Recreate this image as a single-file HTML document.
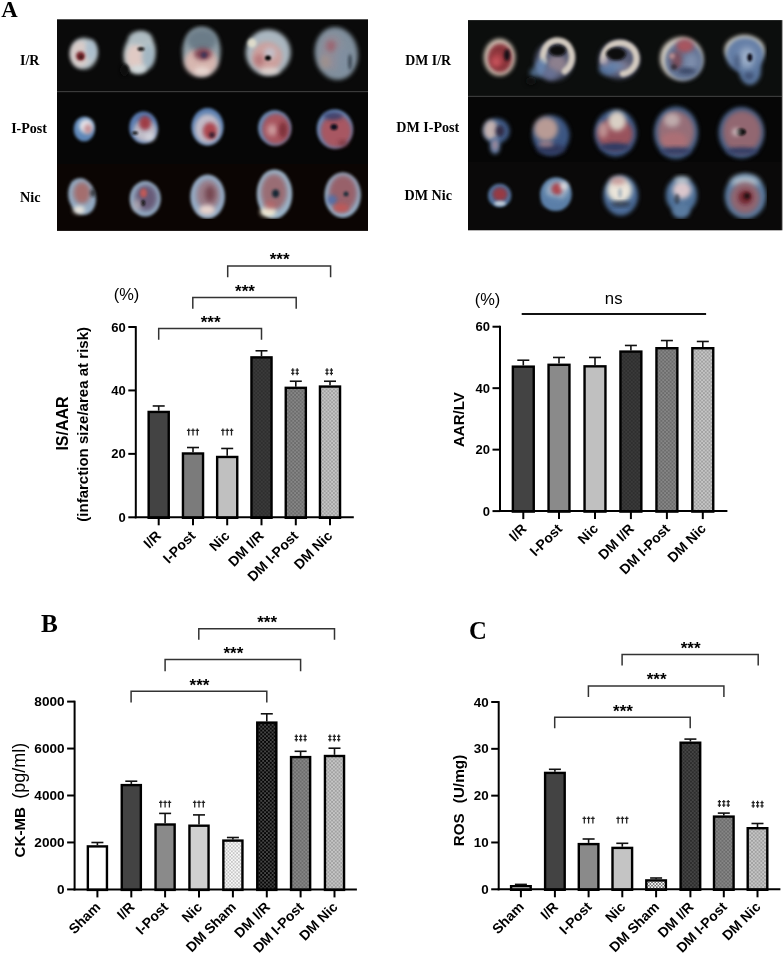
<!DOCTYPE html><html><head><meta charset="utf-8"><style>html,body{margin:0;padding:0;background:#fff;width:783px;height:955px;overflow:hidden;position:relative}</style></head><body><svg width="783" height="955" viewBox="0 0 783 955" style="position:absolute;left:0;top:0;will-change:transform">
<defs>
<filter id="b10" x="-50%" y="-50%" width="200%" height="200%"><feGaussianBlur stdDeviation="1.0"/></filter>
<filter id="b12" x="-50%" y="-50%" width="200%" height="200%"><feGaussianBlur stdDeviation="1.2"/></filter>
<filter id="b13" x="-50%" y="-50%" width="200%" height="200%"><feGaussianBlur stdDeviation="1.3"/></filter>
<filter id="b15" x="-50%" y="-50%" width="200%" height="200%"><feGaussianBlur stdDeviation="1.5"/></filter>
<filter id="b16" x="-50%" y="-50%" width="200%" height="200%"><feGaussianBlur stdDeviation="1.6"/></filter>
<filter id="b18" x="-50%" y="-50%" width="200%" height="200%"><feGaussianBlur stdDeviation="1.8"/></filter>
<filter id="b20" x="-50%" y="-50%" width="200%" height="200%"><feGaussianBlur stdDeviation="2.0"/></filter>
<filter id="b22" x="-50%" y="-50%" width="200%" height="200%"><feGaussianBlur stdDeviation="2.2"/></filter>
<filter id="b25" x="-50%" y="-50%" width="200%" height="200%"><feGaussianBlur stdDeviation="2.5"/></filter>
<filter id="b30" x="-50%" y="-50%" width="200%" height="200%"><feGaussianBlur stdDeviation="3.0"/></filter>
<filter id="desat" x="0" y="0" width="100%" height="100%"><feColorMatrix type="saturate" values="0.72"/></filter>
<pattern id="pDark" width="3.7" height="3.7" patternUnits="userSpaceOnUse"><rect width="3.7" height="3.7" fill="#3a3a3a"/><circle cx="0.925" cy="0.925" r="0.65" fill="#181818"/><circle cx="2.7750000000000004" cy="2.7750000000000004" r="0.65" fill="#181818"/></pattern>
<pattern id="pMid" width="3.7" height="3.7" patternUnits="userSpaceOnUse"><rect width="3.7" height="3.7" fill="#868686"/><circle cx="0.925" cy="0.925" r="0.6" fill="#3a3a3a"/><circle cx="2.7750000000000004" cy="2.7750000000000004" r="0.6" fill="#3a3a3a"/></pattern>
<pattern id="pLight" width="3.7" height="3.7" patternUnits="userSpaceOnUse"><rect width="3.7" height="3.7" fill="#c6c6c6"/><circle cx="0.925" cy="0.925" r="0.6" fill="#5c5c5c"/><circle cx="2.7750000000000004" cy="2.7750000000000004" r="0.6" fill="#5c5c5c"/></pattern>
<pattern id="pWhite" width="3.5" height="3.5" patternUnits="userSpaceOnUse"><rect width="3.5" height="3.5" fill="#f8f8f8"/><circle cx="0.875" cy="0.875" r="0.6" fill="#707070"/><circle cx="2.625" cy="2.625" r="0.6" fill="#707070"/></pattern>
<pattern id="pWhiteC" width="3.2" height="3.2" patternUnits="userSpaceOnUse"><rect width="3.2" height="3.2" fill="#ffffff"/><circle cx="0.8" cy="0.8" r="0.75" fill="#303030"/><circle cx="2.4000000000000004" cy="2.4000000000000004" r="0.75" fill="#303030"/></pattern>
<pattern id="pBlack" width="3.8" height="3.8" patternUnits="userSpaceOnUse"><rect width="3.8" height="3.8" fill="#060606"/><circle cx="0.95" cy="0.95" r="0.7" fill="#a0a0a0"/><circle cx="2.8499999999999996" cy="2.8499999999999996" r="0.7" fill="#a0a0a0"/></pattern>
<pattern id="pDarkC" width="3.7" height="3.7" patternUnits="userSpaceOnUse"><rect width="3.7" height="3.7" fill="#2c2c2c"/><circle cx="0.925" cy="0.925" r="0.65" fill="#707070"/><circle cx="2.7750000000000004" cy="2.7750000000000004" r="0.65" fill="#707070"/></pattern>
</defs>
<rect width="783" height="955" fill="#fff"/>
<rect x="57" y="19.3" width="311" height="72" fill="#0a0a0a"/>
<rect x="57" y="91.8" width="311" height="72.2" fill="#060606"/>
<rect x="57" y="164" width="311" height="66.9" fill="#0b0503"/>
<rect x="57" y="91" width="311" height="1.2" fill="#3a3a3a"/>
<rect x="468" y="20.1" width="313.9" height="76" fill="#0c0e0d"/>
<rect x="468" y="96.7" width="313.9" height="65.3" fill="#060606"/>
<rect x="468" y="162" width="313.9" height="68.3" fill="#0a0909"/>
<rect x="782" y="20.1" width="1" height="210.2" fill="#a8a8a8"/>
<rect x="468" y="95.8" width="313.9" height="1.2" fill="#3a3a3a"/>
<g filter="url(#desat)">
<ellipse cx="84" cy="53.5" rx="13.3" ry="15.5" fill="#b8c8d0" opacity="1.0" filter="url(#b22)"/>
<ellipse cx="80" cy="54" rx="9.5" ry="13" fill="#dccac6" opacity="1.0" filter="url(#b22)"/>
<ellipse cx="91" cy="50" rx="5.5" ry="10" fill="#a4c0d4" opacity="0.9" filter="url(#b22)"/>
<ellipse cx="80.5" cy="56" rx="4.5" ry="4.5" fill="#8a1a28" opacity="1.0" filter="url(#b16)"/>
<ellipse cx="81" cy="57" rx="2.2" ry="2.2" fill="#500810" opacity="1.0" filter="url(#b10)"/>
<ellipse cx="139.5" cy="52.5" rx="15.5" ry="21" fill="#b4c6cc" opacity="1" filter="url(#b22)" transform="rotate(10 139.5 52.5)"/>
<ellipse cx="136" cy="57" rx="10" ry="13" fill="#e6c8c0" opacity="1.0" filter="url(#b25)"/>
<ellipse cx="148" cy="56" rx="6" ry="12" fill="#98b6c8" opacity="0.9" filter="url(#b25)"/>
<ellipse cx="140" cy="38" rx="11" ry="6" fill="#a8bcc4" opacity="0.9" filter="url(#b25)"/>
<ellipse cx="139" cy="69" rx="8" ry="4" fill="#d0dde0" opacity="0.9" filter="url(#b20)"/>
<ellipse cx="141" cy="49" rx="3.5" ry="1.8" fill="#0a0a0a" opacity="1.0" filter="url(#b10)"/>
<ellipse cx="124.5" cy="70" rx="4.5" ry="6" fill="#0a0a0a" opacity="1.0" filter="url(#b18)"/>
<ellipse cx="201.5" cy="51.5" rx="19" ry="24.5" fill="#8aa0ac" opacity="1.0" filter="url(#b22)"/>
<ellipse cx="201" cy="62" rx="16.5" ry="14" fill="#e0b4aa" opacity="1.0" filter="url(#b25)"/>
<ellipse cx="202" cy="40" rx="15" ry="11" fill="#647c8c" opacity="0.95" filter="url(#b25)"/>
<ellipse cx="203" cy="54" rx="9" ry="6" fill="#8a3850" opacity="1.0" filter="url(#b25)"/>
<ellipse cx="204" cy="55" rx="3" ry="3" fill="#403060" opacity="1.0" filter="url(#b15)"/>
<ellipse cx="202" cy="71" rx="8" ry="4" fill="#f0dcd4" opacity="0.8" filter="url(#b20)"/>
<ellipse cx="268.2" cy="52.5" rx="22.5" ry="23" fill="#a6b8c4" opacity="1.0" filter="url(#b22)"/>
<ellipse cx="267" cy="57" rx="15" ry="15" fill="#d89c98" opacity="1.0" filter="url(#b25)"/>
<ellipse cx="270" cy="53" rx="6" ry="6" fill="#c0c8d8" opacity="0.8" filter="url(#b25)"/>
<ellipse cx="259" cy="60" rx="5" ry="6" fill="#c06068" opacity="0.7" filter="url(#b25)"/>
<ellipse cx="268" cy="58" rx="3" ry="2.5" fill="#050505" opacity="1.0" filter="url(#b10)"/>
<ellipse cx="252" cy="43" rx="4.5" ry="4.5" fill="#e0dcc4" opacity="1.0" filter="url(#b16)"/>
<ellipse cx="270" cy="71" rx="10" ry="3.5" fill="#e8d8d0" opacity="0.8" filter="url(#b20)"/>
<ellipse cx="336.3" cy="53.5" rx="21.5" ry="26.5" fill="#7a90a2" opacity="1" filter="url(#b22)" transform="rotate(-8 336.3 53.5)"/>
<ellipse cx="332" cy="52" rx="12" ry="18" fill="#9a8c9c" opacity="0.7" filter="url(#b30)"/>
<ellipse cx="331" cy="46" rx="5" ry="6" fill="#b05060" opacity="0.7" filter="url(#b25)"/>
<ellipse cx="343" cy="60" rx="7" ry="14" fill="#7890a8" opacity="0.8" filter="url(#b30)"/>
<ellipse cx="350" cy="62" rx="2" ry="8" fill="#203040" opacity="0.7" filter="url(#b15)"/>
<ellipse cx="325" cy="62" rx="5" ry="7" fill="#b09080" opacity="0.6" filter="url(#b25)"/>
<ellipse cx="84.2" cy="129" rx="10.5" ry="12.3" fill="#4a88c8" opacity="1.0" filter="url(#b18)"/>
<ellipse cx="86" cy="126" rx="7" ry="7" fill="#e8e8f0" opacity="1.0" filter="url(#b20)"/>
<ellipse cx="88" cy="129" rx="4" ry="5" fill="#d08890" opacity="1.0" filter="url(#b20)"/>
<ellipse cx="143.5" cy="127.4" rx="14.2" ry="15.8" fill="#4a7cc0" opacity="1.0" filter="url(#b18)"/>
<ellipse cx="145" cy="131" rx="11.5" ry="11" fill="#c0bccc" opacity="1.0" filter="url(#b22)"/>
<ellipse cx="145" cy="123" rx="6" ry="7" fill="#b02838" opacity="1.0" filter="url(#b20)"/>
<ellipse cx="135" cy="133" rx="3" ry="1.5" fill="#101010" opacity="1.0" filter="url(#b10)"/>
<ellipse cx="150" cy="137" rx="5" ry="4" fill="#e0e4ec" opacity="0.6" filter="url(#b20)"/>
<ellipse cx="207.5" cy="126.6" rx="16" ry="18.6" fill="#4a80c0" opacity="1.0" filter="url(#b18)"/>
<ellipse cx="207.5" cy="129" rx="13" ry="15" fill="#c4bccc" opacity="1.0" filter="url(#b22)"/>
<ellipse cx="210" cy="131" rx="7" ry="8.5" fill="#c03040" opacity="1.0" filter="url(#b20)"/>
<ellipse cx="212" cy="135" rx="3" ry="3" fill="#401830" opacity="1.0" filter="url(#b15)"/>
<ellipse cx="274.6" cy="127.9" rx="16.5" ry="17.6" fill="#5a90c8" opacity="1.0" filter="url(#b18)"/>
<ellipse cx="276" cy="129" rx="14" ry="15.5" fill="#b84858" opacity="1.0" filter="url(#b20)"/>
<ellipse cx="272" cy="130" rx="5" ry="6" fill="#e0a8a8" opacity="0.8" filter="url(#b25)"/>
<ellipse cx="283" cy="130" rx="4" ry="8" fill="#801828" opacity="0.8" filter="url(#b20)"/>
<ellipse cx="334.8" cy="129" rx="18" ry="19.5" fill="#5a8cc8" opacity="1.0" filter="url(#b18)"/>
<ellipse cx="336" cy="131" rx="15.5" ry="16.5" fill="#b84c5c" opacity="1.0" filter="url(#b20)"/>
<ellipse cx="334" cy="127" rx="3.5" ry="3" fill="#101020" opacity="1.0" filter="url(#b12)"/>
<ellipse cx="333" cy="116" rx="10" ry="4" fill="#2a3a78" opacity="0.8" filter="url(#b20)"/>
<ellipse cx="343" cy="143" rx="5" ry="3" fill="#802030" opacity="0.7" filter="url(#b20)"/>
<ellipse cx="82" cy="196.5" rx="13.5" ry="18.5" fill="#8aaccc" opacity="1" filter="url(#b18)" transform="rotate(-15 82 196.5)"/>
<ellipse cx="82" cy="193" rx="8.5" ry="11" fill="#b06868" opacity="1.0" filter="url(#b25)"/>
<ellipse cx="79" cy="210" rx="6" ry="4" fill="#ece4d8" opacity="1.0" filter="url(#b20)"/>
<ellipse cx="93" cy="193" rx="3" ry="4" fill="#101010" opacity="0.6" filter="url(#b15)"/>
<ellipse cx="145.2" cy="198.8" rx="15.5" ry="17.7" fill="#8aaccc" opacity="1.0" filter="url(#b18)"/>
<ellipse cx="146" cy="198" rx="11" ry="13" fill="#6a5880" opacity="1.0" filter="url(#b25)"/>
<ellipse cx="143.5" cy="193" rx="3.5" ry="4.5" fill="#d04848" opacity="1.0" filter="url(#b18)"/>
<ellipse cx="143" cy="203" rx="2" ry="3" fill="#080808" opacity="1.0" filter="url(#b10)"/>
<ellipse cx="137" cy="205" rx="4" ry="6" fill="#c0b0b8" opacity="0.7" filter="url(#b25)"/>
<ellipse cx="207.6" cy="196.6" rx="17.3" ry="22" fill="#8cacce" opacity="1.0" filter="url(#b18)"/>
<ellipse cx="208" cy="195" rx="11.5" ry="15" fill="#a07888" opacity="1.0" filter="url(#b25)"/>
<ellipse cx="210" cy="194" rx="5" ry="8" fill="#804050" opacity="1.0" filter="url(#b25)"/>
<ellipse cx="207" cy="210" rx="8" ry="5" fill="#ecd0c8" opacity="1.0" filter="url(#b20)"/>
<ellipse cx="274.5" cy="194" rx="17.7" ry="24.5" fill="#92b6d2" opacity="1.0" filter="url(#b18)"/>
<ellipse cx="274" cy="192" rx="13" ry="18" fill="#a46872" opacity="1.0" filter="url(#b25)"/>
<ellipse cx="275.6" cy="193.6" rx="3.5" ry="4" fill="#102838" opacity="1.0" filter="url(#b15)"/>
<ellipse cx="268" cy="212" rx="8" ry="5" fill="#f0e6c8" opacity="1.0" filter="url(#b20)"/>
<ellipse cx="270" cy="205" rx="6" ry="4" fill="#d05858" opacity="0.7" filter="url(#b25)"/>
<ellipse cx="342.7" cy="195.1" rx="18.1" ry="22.6" fill="#8cb0d0" opacity="1.0" filter="url(#b18)"/>
<ellipse cx="343" cy="193" rx="14" ry="18" fill="#a45a68" opacity="1.0" filter="url(#b25)"/>
<ellipse cx="332" cy="200" rx="5" ry="5" fill="#4a70b8" opacity="1.0" filter="url(#b20)"/>
<ellipse cx="341" cy="208" rx="8" ry="4.5" fill="#d04848" opacity="1.0" filter="url(#b20)"/>
<ellipse cx="346" cy="194" rx="2.5" ry="2.5" fill="#203040" opacity="1.0" filter="url(#b12)"/>
<ellipse cx="499.5" cy="57.3" rx="15.7" ry="18.5" fill="#d8c8b4" opacity="1.0" filter="url(#b20)"/>
<ellipse cx="500" cy="58" rx="12" ry="14.5" fill="#98202e" opacity="1.0" filter="url(#b20)"/>
<ellipse cx="497" cy="60" rx="6" ry="7" fill="#d03040" opacity="0.7" filter="url(#b25)"/>
<ellipse cx="507" cy="55" rx="3" ry="6" fill="#151015" opacity="1.0" filter="url(#b15)"/>
<ellipse cx="496" cy="62" rx="4" ry="4" fill="#e04050" opacity="0.8" filter="url(#b20)"/>
<ellipse cx="554" cy="61" rx="19" ry="19.5" fill="#5a6288" opacity="0.9" filter="url(#b25)"/>
<ellipse cx="557" cy="64" rx="10" ry="9" fill="#a08898" opacity="0.8" filter="url(#b25)"/>
<path d="M543.49 61.27 A14.5 16.5 0 1 1 564.75 71.29" fill="none" stroke="#d6cabb" stroke-width="6.5" stroke-linecap="round" opacity="1.0" filter="url(#b18)"/>
<ellipse cx="557.5" cy="50.5" rx="8.5" ry="5.5" fill="#0a0a0a" opacity="1.0" filter="url(#b15)"/>
<ellipse cx="541" cy="68" rx="6" ry="9" fill="#5a88c0" opacity="0.9" filter="url(#b25)"/>
<ellipse cx="550" cy="74" rx="7" ry="6" fill="#6674a4" opacity="0.85" filter="url(#b25)"/>
<ellipse cx="534" cy="73" rx="4" ry="5" fill="#5a90c8" opacity="0.7" filter="url(#b25)"/>
<ellipse cx="531" cy="81" rx="5" ry="4" fill="#0c0e0d" opacity="1.0" filter="url(#b20)"/>
<ellipse cx="619" cy="60" rx="20" ry="19" fill="#5a6288" opacity="0.9" filter="url(#b25)"/>
<ellipse cx="620" cy="67" rx="11" ry="6" fill="#8a7c98" opacity="0.8" filter="url(#b25)"/>
<path d="M603.75 61.19 A16.5 15.5 0 1 1 622.87 73.76" fill="none" stroke="#d6cabb" stroke-width="6.5" stroke-linecap="round" opacity="1.0" filter="url(#b18)"/>
<ellipse cx="616" cy="54" rx="10" ry="6.5" fill="#0a0a0a" opacity="1.0" filter="url(#b15)"/>
<ellipse cx="608" cy="69" rx="9" ry="6" fill="#4a78b0" opacity="0.95" filter="url(#b25)"/>
<ellipse cx="616" cy="66" rx="9" ry="3.5" fill="#5a88c0" opacity="0.8" filter="url(#b25)"/>
<ellipse cx="605" cy="62" rx="4.5" ry="5" fill="#a090b0" opacity="0.7" filter="url(#b25)"/>
<ellipse cx="681.5" cy="58.5" rx="21.5" ry="21.5" fill="#d6ccbc" opacity="1.0" filter="url(#b20)"/>
<ellipse cx="684" cy="61" rx="19" ry="19.5" fill="#5c74a0" opacity="1.0" filter="url(#b22)"/>
<ellipse cx="685" cy="46" rx="9" ry="7" fill="#b84858" opacity="1.0" filter="url(#b25)"/>
<ellipse cx="677" cy="60" rx="6" ry="9" fill="#904050" opacity="0.8" filter="url(#b25)"/>
<ellipse cx="672" cy="56" rx="3" ry="3" fill="#d09090" opacity="0.8" filter="url(#b15)"/>
<ellipse cx="691" cy="62" rx="7" ry="9" fill="#8298c0" opacity="0.7" filter="url(#b30)"/>
<ellipse cx="687" cy="71" rx="9" ry="3" fill="#283860" opacity="0.8" filter="url(#b20)"/>
<ellipse cx="674" cy="67" rx="3" ry="3" fill="#201820" opacity="0.7" filter="url(#b15)"/>
<ellipse cx="744.5" cy="50" rx="20" ry="15" fill="#d4ccbc" opacity="1.0" filter="url(#b20)"/>
<ellipse cx="745" cy="55" rx="19" ry="17.5" fill="#5a80b4" opacity="1.0" filter="url(#b20)"/>
<ellipse cx="750" cy="70" rx="11" ry="15" fill="#5078ac" opacity="1.0" filter="url(#b22)"/>
<ellipse cx="747" cy="58" rx="8" ry="11" fill="#a0b8d8" opacity="0.8" filter="url(#b30)"/>
<ellipse cx="749.8" cy="57.5" rx="2.5" ry="4" fill="#101020" opacity="1.0" filter="url(#b12)"/>
<ellipse cx="749" cy="76" rx="5" ry="4" fill="#2a3a68" opacity="0.6" filter="url(#b20)"/>
<ellipse cx="737" cy="62" rx="3" ry="8" fill="#304878" opacity="0.6" filter="url(#b20)"/>
<ellipse cx="496.5" cy="131" rx="13" ry="12.5" fill="#36609a" opacity="1.0" filter="url(#b20)"/>
<ellipse cx="491" cy="130" rx="7.5" ry="10" fill="#c8b0ae" opacity="1.0" filter="url(#b22)"/>
<ellipse cx="500" cy="131" rx="4.5" ry="6" fill="#302848" opacity="1.0" filter="url(#b20)"/>
<ellipse cx="495" cy="146" rx="5" ry="8" fill="#5a80b8" opacity="1.0" filter="url(#b20)"/>
<ellipse cx="495" cy="145" rx="2.5" ry="5" fill="#c08890" opacity="0.8" filter="url(#b20)"/>
<ellipse cx="551" cy="135.3" rx="18.5" ry="20" fill="#2e5690" opacity="1.0" filter="url(#b20)"/>
<ellipse cx="546" cy="129" rx="12" ry="12" fill="#c09890" opacity="1.0" filter="url(#b25)"/>
<ellipse cx="551" cy="149" rx="14" ry="5" fill="#2a3060" opacity="0.9" filter="url(#b25)"/>
<ellipse cx="546" cy="144" rx="8" ry="3" fill="#d09090" opacity="0.7" filter="url(#b20)"/>
<ellipse cx="615.5" cy="133.1" rx="21" ry="23.3" fill="#325c94" opacity="1.0" filter="url(#b20)"/>
<ellipse cx="615" cy="134" rx="18" ry="16" fill="#a84a58" opacity="1.0" filter="url(#b25)"/>
<ellipse cx="617" cy="121" rx="9" ry="10" fill="#dccfc0" opacity="1.0" filter="url(#b25)"/>
<ellipse cx="615" cy="147" rx="15" ry="4" fill="#283a70" opacity="1.0" filter="url(#b20)"/>
<ellipse cx="603" cy="130" rx="5" ry="8" fill="#e0b8b0" opacity="0.6" filter="url(#b25)"/>
<ellipse cx="676" cy="132.7" rx="22" ry="26.3" fill="#345e92" opacity="1.0" filter="url(#b20)"/>
<ellipse cx="676" cy="132" rx="18.5" ry="21" fill="#a06a78" opacity="1.0" filter="url(#b25)"/>
<ellipse cx="672" cy="120" rx="8" ry="7" fill="#c8b0b0" opacity="0.9" filter="url(#b25)"/>
<ellipse cx="674" cy="140" rx="13" ry="8" fill="#c06870" opacity="0.8" filter="url(#b25)"/>
<ellipse cx="676" cy="151" rx="15" ry="3.5" fill="#2a3a70" opacity="1.0" filter="url(#b20)"/>
<ellipse cx="741.4" cy="132.7" rx="22.8" ry="25.6" fill="#345e92" opacity="1.0" filter="url(#b20)"/>
<ellipse cx="742" cy="132" rx="19.5" ry="21.5" fill="#9c6270" opacity="1.0" filter="url(#b25)"/>
<ellipse cx="741" cy="132" rx="5" ry="3.5" fill="#080808" opacity="1.0" filter="url(#b13)"/>
<ellipse cx="736" cy="132" rx="4" ry="4" fill="#e0d0d0" opacity="0.7" filter="url(#b20)"/>
<ellipse cx="742" cy="151" rx="16" ry="3.5" fill="#2a3a70" opacity="1.0" filter="url(#b20)"/>
<ellipse cx="499.6" cy="195.4" rx="11.6" ry="11.6" fill="#3e78b0" opacity="1.0" filter="url(#b18)"/>
<ellipse cx="500" cy="194.3" rx="7.5" ry="7" fill="#a82838" opacity="1.0" filter="url(#b20)"/>
<ellipse cx="500" cy="203.5" rx="6" ry="2.5" fill="#e0e8f0" opacity="0.8" filter="url(#b18)"/>
<ellipse cx="555.9" cy="194.3" rx="15.8" ry="16.8" fill="#4a80b4" opacity="1.0" filter="url(#b18)"/>
<ellipse cx="557" cy="190" rx="11" ry="10" fill="#a8c0d8" opacity="0.8" filter="url(#b25)"/>
<ellipse cx="557" cy="189" rx="5.5" ry="6" fill="#c03040" opacity="1.0" filter="url(#b20)"/>
<ellipse cx="564" cy="186" rx="4" ry="4" fill="#f0e8e8" opacity="0.8" filter="url(#b20)"/>
<ellipse cx="552" cy="202" rx="10" ry="5" fill="#4a80b8" opacity="0.8" filter="url(#b25)"/>
<ellipse cx="620.7" cy="195.4" rx="17.4" ry="20" fill="#3a6ca4" opacity="1.0" filter="url(#b20)"/>
<ellipse cx="619.5" cy="190" rx="12.5" ry="12.5" fill="#ece4d4" opacity="1.0" filter="url(#b25)"/>
<ellipse cx="618" cy="181" rx="8" ry="4" fill="#d08888" opacity="0.8" filter="url(#b25)"/>
<ellipse cx="621" cy="204" rx="10" ry="2.5" fill="#202838" opacity="0.8" filter="url(#b20)"/>
<ellipse cx="620" cy="193" rx="2" ry="5" fill="#90a8c0" opacity="0.7" filter="url(#b15)"/>
<ellipse cx="681.4" cy="195" rx="15.7" ry="18" fill="#3e72a6" opacity="1.0" filter="url(#b20)"/>
<ellipse cx="681" cy="211" rx="9" ry="7.5" fill="#4a7cac" opacity="1.0" filter="url(#b20)"/>
<ellipse cx="682" cy="190" rx="9.5" ry="9" fill="#e0c4cc" opacity="1.0" filter="url(#b25)"/>
<ellipse cx="677" cy="199" rx="2.5" ry="5" fill="#303848" opacity="0.7" filter="url(#b18)"/>
<ellipse cx="682" cy="180" rx="8" ry="3.5" fill="#d8e0e0" opacity="0.7" filter="url(#b25)"/>
<ellipse cx="745.4" cy="196" rx="20.7" ry="22.6" fill="#4a7cac" opacity="1.0" filter="url(#b20)"/>
<ellipse cx="745" cy="182" rx="14" ry="6" fill="#c8d8e0" opacity="0.8" filter="url(#b30)"/>
<ellipse cx="745" cy="198" rx="15" ry="16" fill="#9a6070" opacity="1.0" filter="url(#b25)"/>
<ellipse cx="745.4" cy="197.2" rx="7" ry="7" fill="#801828" opacity="1.0" filter="url(#b20)"/>
<ellipse cx="747" cy="196" rx="3" ry="3" fill="#200810" opacity="1.0" filter="url(#b15)"/>
</g>
<text x="1.27" y="16.89" font-family='"Liberation Serif", serif' font-size="22.84" font-weight="bold">A</text>
<text x="19.95" y="65.33" font-family='"Liberation Serif", serif' font-size="13.99" font-weight="bold">I/R</text>
<text x="11.14" y="132.73" font-family='"Liberation Serif", serif' font-size="14.06" font-weight="bold">I-Post</text>
<text x="20.12" y="201.67" font-family='"Liberation Serif", serif' font-size="14.21" font-weight="bold">Nic</text>
<text x="405.26" y="65.14" font-family='"Liberation Serif", serif' font-size="13.87" font-weight="bold">DM I/R</text>
<text x="396.35" y="132.49" font-family='"Liberation Serif", serif' font-size="14.08" font-weight="bold">DM I-Post</text>
<text x="404.55" y="199.98" font-family='"Liberation Serif", serif' font-size="14.11" font-weight="bold">DM Nic</text>
<text x="41.05" y="632.04" font-family='"Liberation Serif", serif' font-size="25.25" font-weight="bold">B</text>
<text x="469.12" y="639.35" font-family='"Liberation Serif", serif' font-size="24.68" font-weight="bold">C</text>
<line x1="158.7" y1="410.73087999999996" x2="158.7" y2="405.9733299999999" stroke="#111" stroke-width="1.6"/>
<line x1="152.7" y1="405.9733299999999" x2="164.7" y2="405.9733299999999" stroke="#111" stroke-width="1.6"/>
<rect x="148.64999999999998" y="411.93087999999995" width="20.1" height="105.86912" fill="#434343" stroke="#000" stroke-width="2.4"/>
<line x1="193.0" y1="452.28014999999994" x2="193.0" y2="447.52259999999995" stroke="#111" stroke-width="1.6"/>
<line x1="187.0" y1="447.52259999999995" x2="199.0" y2="447.52259999999995" stroke="#111" stroke-width="1.6"/>
<rect x="182.95" y="453.4801499999999" width="20.1" height="64.31985000000002" fill="#7b7b7b" stroke="#000" stroke-width="2.4"/>
<line x1="227.2" y1="455.76901999999995" x2="227.2" y2="448.47410999999994" stroke="#111" stroke-width="1.6"/>
<line x1="221.2" y1="448.47410999999994" x2="233.2" y2="448.47410999999994" stroke="#111" stroke-width="1.6"/>
<rect x="217.14999999999998" y="456.96901999999994" width="20.1" height="60.83098" fill="#c0c0c0" stroke="#000" stroke-width="2.4"/>
<line x1="261.5" y1="356.17764" x2="261.5" y2="350.78574999999995" stroke="#111" stroke-width="1.6"/>
<line x1="255.5" y1="350.78574999999995" x2="267.5" y2="350.78574999999995" stroke="#111" stroke-width="1.6"/>
<rect x="251.45" y="357.37764" width="20.1" height="160.42235999999997" fill="url(#pDark)" stroke="#000" stroke-width="2.4"/>
<line x1="295.8" y1="386.62595999999996" x2="295.8" y2="381.23407" stroke="#111" stroke-width="1.6"/>
<line x1="289.8" y1="381.23407" x2="301.8" y2="381.23407" stroke="#111" stroke-width="1.6"/>
<rect x="285.75" y="387.82595999999995" width="20.1" height="129.97404" fill="url(#pMid)" stroke="#000" stroke-width="2.4"/>
<line x1="330.0" y1="385.35727999999995" x2="330.0" y2="381.23407" stroke="#111" stroke-width="1.6"/>
<line x1="324.0" y1="381.23407" x2="336.0" y2="381.23407" stroke="#111" stroke-width="1.6"/>
<rect x="319.95" y="386.55727999999993" width="20.1" height="131.24272000000002" fill="url(#pLight)" stroke="#000" stroke-width="2.4"/>
<line x1="135.8" y1="326.1" x2="135.8" y2="518.3" stroke="#000" stroke-width="2.0"/>
<line x1="134.8" y1="517.3" x2="353.8" y2="517.3" stroke="#000" stroke-width="2.0"/>
<line x1="128.3" y1="517.3" x2="135.8" y2="517.3" stroke="#000" stroke-width="2.0"/>
<text x="125.80000000000001" y="521.9" font-family='"Liberation Sans", sans-serif' font-size="13" font-weight="bold" text-anchor="end" fill="#000" >0</text>
<line x1="128.3" y1="453.866" x2="135.8" y2="453.866" stroke="#000" stroke-width="2.0"/>
<text x="125.80000000000001" y="458.466" font-family='"Liberation Sans", sans-serif' font-size="13" font-weight="bold" text-anchor="end" fill="#000" >20</text>
<line x1="128.3" y1="390.43199999999996" x2="135.8" y2="390.43199999999996" stroke="#000" stroke-width="2.0"/>
<text x="125.80000000000001" y="395.032" font-family='"Liberation Sans", sans-serif' font-size="13" font-weight="bold" text-anchor="end" fill="#000" >40</text>
<line x1="128.3" y1="326.99799999999993" x2="135.8" y2="326.99799999999993" stroke="#000" stroke-width="2.0"/>
<text x="125.80000000000001" y="331.59799999999996" font-family='"Liberation Sans", sans-serif' font-size="13" font-weight="bold" text-anchor="end" fill="#000" >60</text>
<line x1="158.7" y1="517.3" x2="158.7" y2="525.3" stroke="#000" stroke-width="2.0"/>
<text transform="translate(161.89999999999998,536.6999999999999) rotate(-45)" font-family='"Liberation Sans", sans-serif' font-size="14" font-weight="bold" text-anchor="end">I/R</text>
<line x1="193.0" y1="517.3" x2="193.0" y2="525.3" stroke="#000" stroke-width="2.0"/>
<text transform="translate(196.2,536.6999999999999) rotate(-45)" font-family='"Liberation Sans", sans-serif' font-size="14" font-weight="bold" text-anchor="end">I-Post</text>
<line x1="227.2" y1="517.3" x2="227.2" y2="525.3" stroke="#000" stroke-width="2.0"/>
<text transform="translate(230.39999999999998,536.6999999999999) rotate(-45)" font-family='"Liberation Sans", sans-serif' font-size="14" font-weight="bold" text-anchor="end">Nic</text>
<line x1="261.5" y1="517.3" x2="261.5" y2="525.3" stroke="#000" stroke-width="2.0"/>
<text transform="translate(264.7,536.6999999999999) rotate(-45)" font-family='"Liberation Sans", sans-serif' font-size="14" font-weight="bold" text-anchor="end">DM I/R</text>
<line x1="295.8" y1="517.3" x2="295.8" y2="525.3" stroke="#000" stroke-width="2.0"/>
<text transform="translate(299.0,536.6999999999999) rotate(-45)" font-family='"Liberation Sans", sans-serif' font-size="14" font-weight="bold" text-anchor="end">DM I-Post</text>
<line x1="330.0" y1="517.3" x2="330.0" y2="525.3" stroke="#000" stroke-width="2.0"/>
<text transform="translate(333.2,536.6999999999999) rotate(-45)" font-family='"Liberation Sans", sans-serif' font-size="14" font-weight="bold" text-anchor="end">DM Nic</text>
<path d="M158.7 339.8 V328.5 H261.5 V339.8" fill="none" stroke="#333" stroke-width="1.5"/>
<text x="210.6" y="327.9" font-family='"Liberation Sans", sans-serif' font-size="17" font-weight="bold" text-anchor="middle" fill="#000" >***</text>
<path d="M192.8 308.7 V297.4 H296.2 V308.7" fill="none" stroke="#333" stroke-width="1.5"/>
<text x="245.0" y="296.79999999999995" font-family='"Liberation Sans", sans-serif' font-size="17" font-weight="bold" text-anchor="middle" fill="#000" >***</text>
<path d="M227.7 277.2 V266.0 H330.6 V277.2" fill="none" stroke="#333" stroke-width="1.5"/>
<text x="279.65" y="265.4" font-family='"Liberation Sans", sans-serif' font-size="17" font-weight="bold" text-anchor="middle" fill="#000" >***</text>
<path d="M188.70 428.6 V435.6 M186.90 430.40000000000003 H190.50 M193.00 428.6 V435.6 M191.20 430.40000000000003 H194.80 M197.30 428.6 V435.6 M195.50 430.40000000000003 H199.10 " stroke="#222" stroke-width="1.25" fill="none"/>
<path d="M222.90 428.6 V435.6 M221.10 430.40000000000003 H224.70 M227.20 428.6 V435.6 M225.40 430.40000000000003 H229.00 M231.50 428.6 V435.6 M229.70 430.40000000000003 H233.30 " stroke="#222" stroke-width="1.25" fill="none"/>
<path d="M292.80 368.3 V375.3 M291.20 370.1 H294.40 M291.20 373.40000000000003 H294.40 M297.20 368.3 V375.3 M295.60 370.1 H298.80 M295.60 373.40000000000003 H298.80 " stroke="#222" stroke-width="1.25" fill="none"/>
<path d="M327.00 368.3 V375.3 M325.40 370.1 H328.60 M325.40 373.40000000000003 H328.60 M331.40 368.3 V375.3 M329.80 370.1 H333.00 M329.80 373.40000000000003 H333.00 " stroke="#222" stroke-width="1.25" fill="none"/>
<text x="113.77" y="300.05" font-family='"Liberation Sans", sans-serif' font-size="16.43" font-weight="normal">(%)</text>
<text transform="translate(68.14,450.58) rotate(-90)" font-family='"Liberation Sans", sans-serif' font-size="16.0" font-weight="bold">IS/AAR</text>
<text transform="translate(88.49,521.75) rotate(-90)" font-family='"Liberation Sans", sans-serif' font-size="15.05" font-weight="bold">(infarction size/area at risk)</text>
<line x1="523.3" y1="365.4398" x2="523.3" y2="360.2157" stroke="#111" stroke-width="1.6"/>
<line x1="517.3" y1="360.2157" x2="529.3" y2="360.2157" stroke="#111" stroke-width="1.6"/>
<rect x="512.8499999999999" y="366.6398" width="20.900000000000002" height="144.96020000000004" fill="#434343" stroke="#000" stroke-width="2.4"/>
<line x1="559.0" y1="363.596" x2="559.0" y2="357.45000000000005" stroke="#111" stroke-width="1.6"/>
<line x1="553.0" y1="357.45000000000005" x2="565.0" y2="357.45000000000005" stroke="#111" stroke-width="1.6"/>
<rect x="548.55" y="364.796" width="20.900000000000002" height="146.80400000000003" fill="#8a8a8a" stroke="#000" stroke-width="2.4"/>
<line x1="595.0" y1="365.13250000000005" x2="595.0" y2="357.45000000000005" stroke="#111" stroke-width="1.6"/>
<line x1="589.0" y1="357.45000000000005" x2="601.0" y2="357.45000000000005" stroke="#111" stroke-width="1.6"/>
<rect x="584.55" y="366.33250000000004" width="20.900000000000002" height="145.26749999999998" fill="#c0c0c0" stroke="#000" stroke-width="2.4"/>
<line x1="630.9" y1="350.38210000000004" x2="630.9" y2="345.46530000000007" stroke="#111" stroke-width="1.6"/>
<line x1="624.9" y1="345.46530000000007" x2="636.9" y2="345.46530000000007" stroke="#111" stroke-width="1.6"/>
<rect x="620.4499999999999" y="351.5821" width="20.900000000000002" height="160.0179" fill="url(#pDark)" stroke="#000" stroke-width="2.4"/>
<line x1="666.9" y1="347.0018" x2="666.9" y2="340.5485" stroke="#111" stroke-width="1.6"/>
<line x1="660.9" y1="340.5485" x2="672.9" y2="340.5485" stroke="#111" stroke-width="1.6"/>
<rect x="656.4499999999999" y="348.2018" width="20.900000000000002" height="163.39820000000003" fill="url(#pMid)" stroke="#000" stroke-width="2.4"/>
<line x1="702.8" y1="347.0018" x2="702.8" y2="341.47040000000004" stroke="#111" stroke-width="1.6"/>
<line x1="696.8" y1="341.47040000000004" x2="708.8" y2="341.47040000000004" stroke="#111" stroke-width="1.6"/>
<rect x="692.3499999999999" y="348.2018" width="20.900000000000002" height="163.39820000000003" fill="url(#pLight)" stroke="#000" stroke-width="2.4"/>
<line x1="500.0" y1="325.8" x2="500.0" y2="512.1" stroke="#000" stroke-width="2.0"/>
<line x1="499.0" y1="511.1" x2="727.4" y2="511.1" stroke="#000" stroke-width="2.0"/>
<line x1="492.5" y1="511.1" x2="500.0" y2="511.1" stroke="#000" stroke-width="2.0"/>
<text x="490.0" y="515.7" font-family='"Liberation Sans", sans-serif' font-size="13" font-weight="bold" text-anchor="end" fill="#000" >0</text>
<line x1="492.5" y1="449.64000000000004" x2="500.0" y2="449.64000000000004" stroke="#000" stroke-width="2.0"/>
<text x="490.0" y="454.24000000000007" font-family='"Liberation Sans", sans-serif' font-size="13" font-weight="bold" text-anchor="end" fill="#000" >20</text>
<line x1="492.5" y1="388.18" x2="500.0" y2="388.18" stroke="#000" stroke-width="2.0"/>
<text x="490.0" y="392.78000000000003" font-family='"Liberation Sans", sans-serif' font-size="13" font-weight="bold" text-anchor="end" fill="#000" >40</text>
<line x1="492.5" y1="326.72" x2="500.0" y2="326.72" stroke="#000" stroke-width="2.0"/>
<text x="490.0" y="331.32000000000005" font-family='"Liberation Sans", sans-serif' font-size="13" font-weight="bold" text-anchor="end" fill="#000" >60</text>
<line x1="523.3" y1="511.1" x2="523.3" y2="519.1" stroke="#000" stroke-width="2.0"/>
<text transform="translate(527.3,529.6) rotate(-45)" font-family='"Liberation Sans", sans-serif' font-size="14" font-weight="bold" text-anchor="end">I/R</text>
<line x1="559.0" y1="511.1" x2="559.0" y2="519.1" stroke="#000" stroke-width="2.0"/>
<text transform="translate(563.0,529.6) rotate(-45)" font-family='"Liberation Sans", sans-serif' font-size="14" font-weight="bold" text-anchor="end">I-Post</text>
<line x1="595.0" y1="511.1" x2="595.0" y2="519.1" stroke="#000" stroke-width="2.0"/>
<text transform="translate(599.0,529.6) rotate(-45)" font-family='"Liberation Sans", sans-serif' font-size="14" font-weight="bold" text-anchor="end">Nic</text>
<line x1="630.9" y1="511.1" x2="630.9" y2="519.1" stroke="#000" stroke-width="2.0"/>
<text transform="translate(634.9,529.6) rotate(-45)" font-family='"Liberation Sans", sans-serif' font-size="14" font-weight="bold" text-anchor="end">DM I/R</text>
<line x1="666.9" y1="511.1" x2="666.9" y2="519.1" stroke="#000" stroke-width="2.0"/>
<text transform="translate(670.9,529.6) rotate(-45)" font-family='"Liberation Sans", sans-serif' font-size="14" font-weight="bold" text-anchor="end">DM I-Post</text>
<line x1="702.8" y1="511.1" x2="702.8" y2="519.1" stroke="#000" stroke-width="2.0"/>
<text transform="translate(706.8,529.6) rotate(-45)" font-family='"Liberation Sans", sans-serif' font-size="14" font-weight="bold" text-anchor="end">DM Nic</text>
<text x="474.77" y="304.5" font-family='"Liberation Sans", sans-serif' font-size="16.43" font-weight="normal">(%)</text>
<text x="604.87" y="304.4" font-family='"Liberation Sans", sans-serif' font-size="16.69" font-weight="normal">ns</text>
<line x1="521.7" y1="314.1" x2="706.1" y2="314.1" stroke="#111" stroke-width="2"/>
<text transform="translate(463.95,447.08) rotate(-90)" font-family='"Liberation Sans", sans-serif' font-size="15.05" font-weight="bold">AAR/LV</text>
<line x1="97.4" y1="845.2" x2="97.4" y2="842.5" stroke="#111" stroke-width="1.6"/>
<line x1="91.4" y1="842.5" x2="103.4" y2="842.5" stroke="#111" stroke-width="1.6"/>
<rect x="87.85000000000001" y="846.4000000000001" width="19.1" height="43.49999999999993" fill="#ffffff" stroke="#000" stroke-width="2.4"/>
<line x1="131.3" y1="783.9" x2="131.3" y2="781.2" stroke="#111" stroke-width="1.6"/>
<line x1="125.30000000000001" y1="781.2" x2="137.3" y2="781.2" stroke="#111" stroke-width="1.6"/>
<rect x="121.75000000000001" y="785.1" width="19.1" height="104.8" fill="#434343" stroke="#000" stroke-width="2.4"/>
<line x1="165.1" y1="823.3" x2="165.1" y2="813.4" stroke="#111" stroke-width="1.6"/>
<line x1="159.1" y1="813.4" x2="171.1" y2="813.4" stroke="#111" stroke-width="1.6"/>
<rect x="155.54999999999998" y="824.5" width="19.1" height="65.40000000000002" fill="#8a8a8a" stroke="#000" stroke-width="2.4"/>
<line x1="199.0" y1="824.5" x2="199.0" y2="814.9" stroke="#111" stroke-width="1.6"/>
<line x1="193.0" y1="814.9" x2="205.0" y2="814.9" stroke="#111" stroke-width="1.6"/>
<rect x="189.45" y="825.7" width="19.1" height="64.19999999999997" fill="#d0d0d0" stroke="#000" stroke-width="2.4"/>
<line x1="232.9" y1="839.4" x2="232.9" y2="837.5" stroke="#111" stroke-width="1.6"/>
<line x1="226.9" y1="837.5" x2="238.9" y2="837.5" stroke="#111" stroke-width="1.6"/>
<rect x="223.35" y="840.6" width="19.1" height="49.3" fill="url(#pWhite)" stroke="#000" stroke-width="2.4"/>
<line x1="266.8" y1="721.4" x2="266.8" y2="713.8" stroke="#111" stroke-width="1.6"/>
<line x1="260.8" y1="713.8" x2="272.8" y2="713.8" stroke="#111" stroke-width="1.6"/>
<rect x="257.25" y="722.6" width="19.1" height="167.3" fill="url(#pBlack)" stroke="#000" stroke-width="2.4"/>
<line x1="300.6" y1="755.9" x2="300.6" y2="751.3" stroke="#111" stroke-width="1.6"/>
<line x1="294.6" y1="751.3" x2="306.6" y2="751.3" stroke="#111" stroke-width="1.6"/>
<rect x="291.05" y="757.1" width="19.1" height="132.8" fill="url(#pMid)" stroke="#000" stroke-width="2.4"/>
<line x1="334.5" y1="754.8" x2="334.5" y2="748.2" stroke="#111" stroke-width="1.6"/>
<line x1="328.5" y1="748.2" x2="340.5" y2="748.2" stroke="#111" stroke-width="1.6"/>
<rect x="324.95" y="756.0" width="19.1" height="133.90000000000003" fill="url(#pLight)" stroke="#000" stroke-width="2.4"/>
<line x1="74.6" y1="700.7" x2="74.6" y2="890.4" stroke="#000" stroke-width="2.0"/>
<line x1="73.6" y1="889.4" x2="356.9" y2="889.4" stroke="#000" stroke-width="2.0"/>
<line x1="67.1" y1="889.4" x2="74.6" y2="889.4" stroke="#000" stroke-width="2.0"/>
<text x="64.6" y="894.0" font-family='"Liberation Sans", sans-serif' font-size="13.6" font-weight="bold" text-anchor="end" fill="#000" >0</text>
<line x1="67.1" y1="842.4499999999999" x2="74.6" y2="842.4499999999999" stroke="#000" stroke-width="2.0"/>
<text x="64.6" y="847.05" font-family='"Liberation Sans", sans-serif' font-size="13.6" font-weight="bold" text-anchor="end" fill="#000" >2000</text>
<line x1="67.1" y1="795.5" x2="74.6" y2="795.5" stroke="#000" stroke-width="2.0"/>
<text x="64.6" y="800.1" font-family='"Liberation Sans", sans-serif' font-size="13.6" font-weight="bold" text-anchor="end" fill="#000" >4000</text>
<line x1="67.1" y1="748.55" x2="74.6" y2="748.55" stroke="#000" stroke-width="2.0"/>
<text x="64.6" y="753.15" font-family='"Liberation Sans", sans-serif' font-size="13.6" font-weight="bold" text-anchor="end" fill="#000" >6000</text>
<line x1="67.1" y1="701.6" x2="74.6" y2="701.6" stroke="#000" stroke-width="2.0"/>
<text x="64.6" y="706.2" font-family='"Liberation Sans", sans-serif' font-size="13.6" font-weight="bold" text-anchor="end" fill="#000" >8000</text>
<line x1="97.4" y1="889.4" x2="97.4" y2="897.4" stroke="#000" stroke-width="2.0"/>
<text transform="translate(101.4,907.9) rotate(-45)" font-family='"Liberation Sans", sans-serif' font-size="14" font-weight="bold" text-anchor="end">Sham</text>
<line x1="131.3" y1="889.4" x2="131.3" y2="897.4" stroke="#000" stroke-width="2.0"/>
<text transform="translate(135.3,907.9) rotate(-45)" font-family='"Liberation Sans", sans-serif' font-size="14" font-weight="bold" text-anchor="end">I/R</text>
<line x1="165.1" y1="889.4" x2="165.1" y2="897.4" stroke="#000" stroke-width="2.0"/>
<text transform="translate(169.1,907.9) rotate(-45)" font-family='"Liberation Sans", sans-serif' font-size="14" font-weight="bold" text-anchor="end">I-Post</text>
<line x1="199.0" y1="889.4" x2="199.0" y2="897.4" stroke="#000" stroke-width="2.0"/>
<text transform="translate(203.0,907.9) rotate(-45)" font-family='"Liberation Sans", sans-serif' font-size="14" font-weight="bold" text-anchor="end">Nic</text>
<line x1="232.9" y1="889.4" x2="232.9" y2="897.4" stroke="#000" stroke-width="2.0"/>
<text transform="translate(236.9,907.9) rotate(-45)" font-family='"Liberation Sans", sans-serif' font-size="14" font-weight="bold" text-anchor="end">DM Sham</text>
<line x1="266.8" y1="889.4" x2="266.8" y2="897.4" stroke="#000" stroke-width="2.0"/>
<text transform="translate(270.8,907.9) rotate(-45)" font-family='"Liberation Sans", sans-serif' font-size="14" font-weight="bold" text-anchor="end">DM I/R</text>
<line x1="300.6" y1="889.4" x2="300.6" y2="897.4" stroke="#000" stroke-width="2.0"/>
<text transform="translate(304.6,907.9) rotate(-45)" font-family='"Liberation Sans", sans-serif' font-size="14" font-weight="bold" text-anchor="end">DM I-Post</text>
<line x1="334.5" y1="889.4" x2="334.5" y2="897.4" stroke="#000" stroke-width="2.0"/>
<text transform="translate(338.5,907.9) rotate(-45)" font-family='"Liberation Sans", sans-serif' font-size="14" font-weight="bold" text-anchor="end">DM Nic</text>
<path d="M131.1 702.4000000000001 V691.2 H266.8 V702.4000000000001" fill="none" stroke="#333" stroke-width="1.5"/>
<text x="199.45" y="690.6" font-family='"Liberation Sans", sans-serif' font-size="17" font-weight="bold" text-anchor="middle" fill="#000" >***</text>
<path d="M165.1 671.2 V659.5 H300.6 V671.2" fill="none" stroke="#333" stroke-width="1.5"/>
<text x="233.35000000000002" y="658.9" font-family='"Liberation Sans", sans-serif' font-size="17" font-weight="bold" text-anchor="middle" fill="#000" >***</text>
<path d="M198.8 639.8 V628.8 H334.5 V639.8" fill="none" stroke="#333" stroke-width="1.5"/>
<text x="267.15" y="628.1999999999999" font-family='"Liberation Sans", sans-serif' font-size="17" font-weight="bold" text-anchor="middle" fill="#000" >***</text>
<path d="M160.80 800.6 V807.6 M159.00 802.4 H162.60 M165.10 800.6 V807.6 M163.30 802.4 H166.90 M169.40 800.6 V807.6 M167.60 802.4 H171.20 " stroke="#222" stroke-width="1.25" fill="none"/>
<path d="M194.70 800.6 V807.6 M192.90 802.4 H196.50 M199.00 800.6 V807.6 M197.20 802.4 H200.80 M203.30 800.6 V807.6 M201.50 802.4 H205.10 " stroke="#222" stroke-width="1.25" fill="none"/>
<path d="M296.30 734.6 V741.6 M294.70 736.4 H297.90 M294.70 739.7 H297.90 M300.70 734.6 V741.6 M299.10 736.4 H302.30 M299.10 739.7 H302.30 M305.10 734.6 V741.6 M303.50 736.4 H306.70 M303.50 739.7 H306.70 " stroke="#222" stroke-width="1.25" fill="none"/>
<path d="M329.90 734.6 V741.6 M328.30 736.4 H331.50 M328.30 739.7 H331.50 M334.30 734.6 V741.6 M332.70 736.4 H335.90 M332.70 739.7 H335.90 M338.70 734.6 V741.6 M337.10 736.4 H340.30 M337.10 739.7 H340.30 " stroke="#222" stroke-width="1.25" fill="none"/>
<text transform="translate(24.79,857.4) rotate(-90)" font-family='"Liberation Sans", sans-serif' font-size="15.09" font-weight="bold">CK-MB</text>
<text transform="translate(25.06,798.73) rotate(-90)" font-family='"Liberation Sans", sans-serif' font-size="18.02" font-weight="normal">(pg/ml)</text>
<line x1="520.9" y1="885.0" x2="520.9" y2="884.4" stroke="#111" stroke-width="1.6"/>
<line x1="514.9" y1="884.4" x2="526.9" y2="884.4" stroke="#111" stroke-width="1.6"/>
<rect x="511.09999999999997" y="886.2" width="19.6" height="3.5999999999999543" fill="#ffffff" stroke="#000" stroke-width="2.4"/>
<line x1="554.9" y1="771.7" x2="554.9" y2="769.3" stroke="#111" stroke-width="1.6"/>
<line x1="548.9" y1="769.3" x2="560.9" y2="769.3" stroke="#111" stroke-width="1.6"/>
<rect x="545.1" y="772.9000000000001" width="19.6" height="116.8999999999999" fill="#434343" stroke="#000" stroke-width="2.4"/>
<line x1="588.6" y1="842.9" x2="588.6" y2="839.0" stroke="#111" stroke-width="1.6"/>
<line x1="582.6" y1="839.0" x2="594.6" y2="839.0" stroke="#111" stroke-width="1.6"/>
<rect x="578.8000000000001" y="844.1" width="19.6" height="45.699999999999974" fill="#8a8a8a" stroke="#000" stroke-width="2.4"/>
<line x1="622.3" y1="846.7" x2="622.3" y2="843.3" stroke="#111" stroke-width="1.6"/>
<line x1="616.3" y1="843.3" x2="628.3" y2="843.3" stroke="#111" stroke-width="1.6"/>
<rect x="612.5" y="847.9000000000001" width="19.6" height="41.899999999999906" fill="#c4c4c4" stroke="#000" stroke-width="2.4"/>
<line x1="656.1" y1="879.2" x2="656.1" y2="878.0" stroke="#111" stroke-width="1.6"/>
<line x1="650.1" y1="878.0" x2="662.1" y2="878.0" stroke="#111" stroke-width="1.6"/>
<rect x="646.3000000000001" y="880.4000000000001" width="19.6" height="9.39999999999991" fill="url(#pWhiteC)" stroke="#000" stroke-width="2.4"/>
<line x1="690.4" y1="741.5" x2="690.4" y2="739.1" stroke="#111" stroke-width="1.6"/>
<line x1="684.4" y1="739.1" x2="696.4" y2="739.1" stroke="#111" stroke-width="1.6"/>
<rect x="680.6" y="742.7" width="19.6" height="147.09999999999997" fill="url(#pDarkC)" stroke="#000" stroke-width="2.4"/>
<line x1="723.8" y1="815.4" x2="723.8" y2="813.1" stroke="#111" stroke-width="1.6"/>
<line x1="717.8" y1="813.1" x2="729.8" y2="813.1" stroke="#111" stroke-width="1.6"/>
<rect x="714.0" y="816.6" width="19.6" height="73.19999999999997" fill="url(#pMid)" stroke="#000" stroke-width="2.4"/>
<line x1="757.5" y1="827.0" x2="757.5" y2="823.5" stroke="#111" stroke-width="1.6"/>
<line x1="751.5" y1="823.5" x2="763.5" y2="823.5" stroke="#111" stroke-width="1.6"/>
<rect x="747.7" y="828.2" width="19.6" height="61.59999999999995" fill="url(#pLight)" stroke="#000" stroke-width="2.4"/>
<line x1="498.7" y1="701.1" x2="498.7" y2="890.3" stroke="#000" stroke-width="2.0"/>
<line x1="497.7" y1="889.3" x2="780.4" y2="889.3" stroke="#000" stroke-width="2.0"/>
<line x1="491.2" y1="889.3" x2="498.7" y2="889.3" stroke="#000" stroke-width="2.0"/>
<text x="488.7" y="893.9" font-family='"Liberation Sans", sans-serif' font-size="13.4" font-weight="bold" text-anchor="end" fill="#000" >0</text>
<line x1="491.2" y1="842.4749999999999" x2="498.7" y2="842.4749999999999" stroke="#000" stroke-width="2.0"/>
<text x="488.7" y="847.0749999999999" font-family='"Liberation Sans", sans-serif' font-size="13.4" font-weight="bold" text-anchor="end" fill="#000" >10</text>
<line x1="491.2" y1="795.65" x2="498.7" y2="795.65" stroke="#000" stroke-width="2.0"/>
<text x="488.7" y="800.25" font-family='"Liberation Sans", sans-serif' font-size="13.4" font-weight="bold" text-anchor="end" fill="#000" >20</text>
<line x1="491.2" y1="748.8249999999999" x2="498.7" y2="748.8249999999999" stroke="#000" stroke-width="2.0"/>
<text x="488.7" y="753.425" font-family='"Liberation Sans", sans-serif' font-size="13.4" font-weight="bold" text-anchor="end" fill="#000" >30</text>
<line x1="491.2" y1="702.0" x2="498.7" y2="702.0" stroke="#000" stroke-width="2.0"/>
<text x="488.7" y="706.6" font-family='"Liberation Sans", sans-serif' font-size="13.4" font-weight="bold" text-anchor="end" fill="#000" >40</text>
<line x1="520.9" y1="889.3" x2="520.9" y2="897.3" stroke="#000" stroke-width="2.0"/>
<text transform="translate(524.9,907.8) rotate(-45)" font-family='"Liberation Sans", sans-serif' font-size="14" font-weight="bold" text-anchor="end">Sham</text>
<line x1="554.9" y1="889.3" x2="554.9" y2="897.3" stroke="#000" stroke-width="2.0"/>
<text transform="translate(558.9,907.8) rotate(-45)" font-family='"Liberation Sans", sans-serif' font-size="14" font-weight="bold" text-anchor="end">I/R</text>
<line x1="588.6" y1="889.3" x2="588.6" y2="897.3" stroke="#000" stroke-width="2.0"/>
<text transform="translate(592.6,907.8) rotate(-45)" font-family='"Liberation Sans", sans-serif' font-size="14" font-weight="bold" text-anchor="end">I-Post</text>
<line x1="622.3" y1="889.3" x2="622.3" y2="897.3" stroke="#000" stroke-width="2.0"/>
<text transform="translate(626.3,907.8) rotate(-45)" font-family='"Liberation Sans", sans-serif' font-size="14" font-weight="bold" text-anchor="end">Nic</text>
<line x1="656.1" y1="889.3" x2="656.1" y2="897.3" stroke="#000" stroke-width="2.0"/>
<text transform="translate(660.1,907.8) rotate(-45)" font-family='"Liberation Sans", sans-serif' font-size="14" font-weight="bold" text-anchor="end">DM Sham</text>
<line x1="690.4" y1="889.3" x2="690.4" y2="897.3" stroke="#000" stroke-width="2.0"/>
<text transform="translate(694.4,907.8) rotate(-45)" font-family='"Liberation Sans", sans-serif' font-size="14" font-weight="bold" text-anchor="end">DM I/R</text>
<line x1="723.8" y1="889.3" x2="723.8" y2="897.3" stroke="#000" stroke-width="2.0"/>
<text transform="translate(727.8,907.8) rotate(-45)" font-family='"Liberation Sans", sans-serif' font-size="14" font-weight="bold" text-anchor="end">DM I-Post</text>
<line x1="757.5" y1="889.3" x2="757.5" y2="897.3" stroke="#000" stroke-width="2.0"/>
<text transform="translate(761.5,907.8) rotate(-45)" font-family='"Liberation Sans", sans-serif' font-size="14" font-weight="bold" text-anchor="end">DM Nic</text>
<path d="M554.7 728.3 V717.3 H690.2 V728.3" fill="none" stroke="#333" stroke-width="1.5"/>
<text x="622.95" y="716.6999999999999" font-family='"Liberation Sans", sans-serif' font-size="17" font-weight="bold" text-anchor="middle" fill="#000" >***</text>
<path d="M588.4 697.0 V685.9 H723.9 V697.0" fill="none" stroke="#333" stroke-width="1.5"/>
<text x="656.65" y="685.3" font-family='"Liberation Sans", sans-serif' font-size="17" font-weight="bold" text-anchor="middle" fill="#000" >***</text>
<path d="M622.1 665.5 V654.5 H758.2 V665.5" fill="none" stroke="#333" stroke-width="1.5"/>
<text x="690.6500000000001" y="653.9" font-family='"Liberation Sans", sans-serif' font-size="17" font-weight="bold" text-anchor="middle" fill="#000" >***</text>
<path d="M584.30 816.6 V823.6 M582.50 818.4 H586.10 M588.60 816.6 V823.6 M586.80 818.4 H590.40 M592.90 816.6 V823.6 M591.10 818.4 H594.70 " stroke="#222" stroke-width="1.25" fill="none"/>
<path d="M618.10 816.6 V823.6 M616.30 818.4 H619.90 M622.40 816.6 V823.6 M620.60 818.4 H624.20 M626.70 816.6 V823.6 M624.90 818.4 H628.50 " stroke="#222" stroke-width="1.25" fill="none"/>
<path d="M719.40 799.9 V806.9 M717.80 801.6999999999999 H721.00 M717.80 805.0 H721.00 M723.80 799.9 V806.9 M722.20 801.6999999999999 H725.40 M722.20 805.0 H725.40 M728.20 799.9 V806.9 M726.60 801.6999999999999 H729.80 M726.60 805.0 H729.80 " stroke="#222" stroke-width="1.25" fill="none"/>
<path d="M753.20 800.7 V807.7 M751.60 802.5 H754.80 M751.60 805.8000000000001 H754.80 M757.60 800.7 V807.7 M756.00 802.5 H759.20 M756.00 805.8000000000001 H759.20 M762.00 800.7 V807.7 M760.40 802.5 H763.60 M760.40 805.8000000000001 H763.60 " stroke="#222" stroke-width="1.25" fill="none"/>
<text transform="translate(463.91,846.22) rotate(-90)" font-family='"Liberation Sans", sans-serif' font-size="15.15" font-weight="bold">ROS</text>
<text transform="translate(463.65,803.37) rotate(-90)" font-family='"Liberation Sans", sans-serif' font-size="15.4" font-weight="bold">(U/mg)</text>
</svg></body></html>
